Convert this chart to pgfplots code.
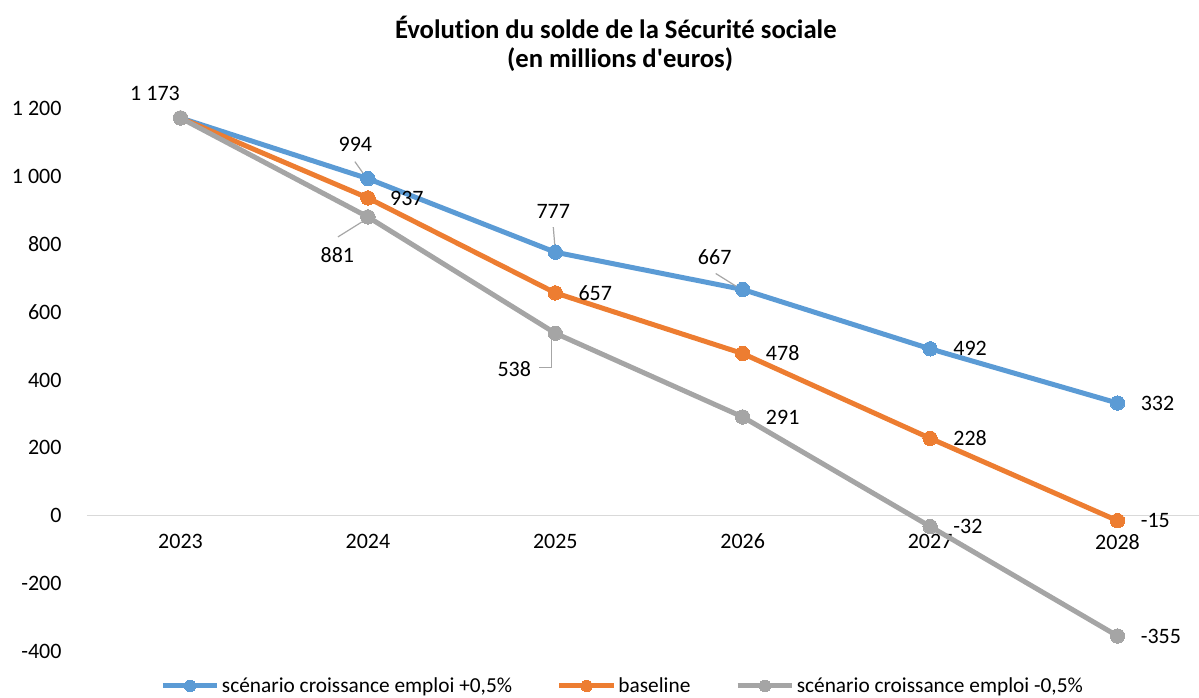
\documentclass[border=0pt]{standalone}
\usepackage{pgfplots}
\pgfplotsset{compat=1.18}
\usepackage{fontspec}
\setmainfont{Carlito}[Ligatures={TeXOff,NoCommon}]
\definecolor{cblue}{HTML}{5B9BD5}
\definecolor{corange}{HTML}{ED7D31}
\definecolor{cgray}{HTML}{A5A5A5}
\definecolor{zline}{HTML}{D9D9D9}
\definecolor{lead}{HTML}{A6A6A6}
\begin{document}
\begin{tikzpicture}
\useasboundingbox (-65.1pt,-34.35pt) rectangle (834.15pt,488.4pt);
\begin{axis}[
  width=843.3pt, height=406.8pt, scale only axis,
  xmin=2022.5, xmax=2028.5, ymin=-400, ymax=1200,
  axis x line=middle, axis y line=left,
  x axis line style={draw=zline, line width=0.9pt, -},
  y axis line style={draw=none},
  major tick length=0pt,
  xtick={2023,2024,2025,2026,2027,2028},
  xticklabels={2023,2024,2025,2026,2027,2028},
  ytick={-400,-200,0,200,400,600,800,1000,1200},
  yticklabels={-400,-200,0,200,400,600,800,1 000,1 200},
  ticklabel style={font=\fontsize{16.5}{18}\selectfont, text=black},
  xticklabel style={anchor=center, inner sep=0pt, yshift=-19.5pt},
  yticklabel style={anchor=east, inner sep=0pt, xshift=-18.75pt},
  clip=false,
  legend style={draw=none, fill=none, inner sep=0pt, at={(0.0651,-0.0641)}, anchor=west,
    font=\fontsize{16}{18}\selectfont, legend columns=3,
    nodes={inner sep=1.5pt},
    /tikz/every odd column/.append style={column sep=0pt}},
  legend image code/.code={\draw[mark repeat=2,mark phase=2,#1,mark size=4.3pt] plot coordinates {(0pt,0pt) (20.5pt,0pt) (41pt,0pt)};},
  every axis plot/.append style={line width=3.75pt, mark=*, mark size=5.4pt},
]
\addplot[color=cblue, mark options={fill=cblue, draw=cblue, line width=0pt}] coordinates {
(2023,1173) (2024,994) (2025,777) (2026,667) (2027,492) (2028,332)};
\addlegendentry{scénario croissance emploi +0,5\%\kern32pt}
\addplot[color=corange, mark options={fill=corange, draw=corange, line width=0pt}] coordinates {
(2023,1173) (2024,937) (2025,657) (2026,478) (2027,228) (2028,-15)};
\addlegendentry{baseline\kern32pt}
\addplot[color=cgray, mark options={fill=cgray, draw=cgray, line width=0pt}] coordinates {
(2023,1173) (2024,881) (2025,538) (2026,291) (2027,-32) (2028,-355)};
\addlegendentry{scénario croissance emploi -0,5\%}

% leader lines
\draw[lead, line width=0.9pt] ([xshift=-9.75pt,yshift=12.75pt]axis cs:2024,994) -- ([xshift=-0.75pt]axis cs:2024,994);
\draw[lead, line width=0.9pt] ([xshift=-22.5pt,yshift=-15pt]axis cs:2024,881) -- ([xshift=-4.5pt,yshift=-3.75pt]axis cs:2024,881);
\draw[lead, line width=0.9pt] ([xshift=-1.5pt,yshift=18.75pt]axis cs:2025,777) -- ([yshift=0.75pt]axis cs:2025,777);
\draw[lead, line width=0.9pt] ([xshift=-12pt,yshift=-25.5pt]axis cs:2025,538) -- ([xshift=-3pt,yshift=-25.5pt]axis cs:2025,538) -- ([xshift=-3pt,yshift=-5.25pt]axis cs:2025,538);
\draw[lead, line width=0.9pt] ([xshift=-20.25pt,yshift=12pt]axis cs:2026,667) -- ([xshift=-2.25pt,yshift=0.75pt]axis cs:2026,667);

% data labels
\begin{scope}[every node/.style={font=\fontsize{16.5}{18}\selectfont, inner sep=0pt}]
\node[xshift=-19.1pt,yshift=18.4pt] at (axis cs:2023,1173) {1 173};
\node[xshift=-9.4pt,yshift=25.5pt] at (axis cs:2024,994) {994};
\node[xshift=-22.9pt,yshift=-28.5pt] at (axis cs:2024,881) {881};
\node[xshift=-1.5pt,yshift=30.75pt] at (axis cs:2025,777) {777};
\node[xshift=-30.75pt,yshift=-26.6pt] at (axis cs:2025,538) {538};
\node[xshift=-21pt,yshift=24.4pt] at (axis cs:2026,667) {667};
\node[anchor=west,xshift=16.5pt] at (axis cs:2024,937) {937};
\node[anchor=west,xshift=17.25pt] at (axis cs:2025,657) {657};
\node[anchor=west,xshift=17.25pt] at (axis cs:2026,478) {478};
\node[anchor=west,xshift=17.25pt] at (axis cs:2026,291) {291};
\node[anchor=west,xshift=17.25pt] at (axis cs:2027,492) {492};
\node[anchor=west,xshift=17.25pt] at (axis cs:2027,228) {228};
\node[anchor=west,xshift=17.25pt] at (axis cs:2027,-32) {-32};
\node[anchor=west,xshift=17.25pt] at (axis cs:2028,332) {332};
\node[anchor=west,xshift=17.25pt] at (axis cs:2028,-15) {-15};
\node[anchor=west,xshift=17.25pt] at (axis cs:2028,-355) {-355};
\end{scope}
\end{axis}
\node[font=\fontsize{20}{22}\selectfont\bfseries, anchor=base] at (396.75pt,459.75pt) {Évolution du solde de la Sécurité sociale};
\node[font=\fontsize{20}{22}\selectfont\bfseries, anchor=base] at (400pt,438pt) {(en millions d'euros)};
\end{tikzpicture}
\end{document}
